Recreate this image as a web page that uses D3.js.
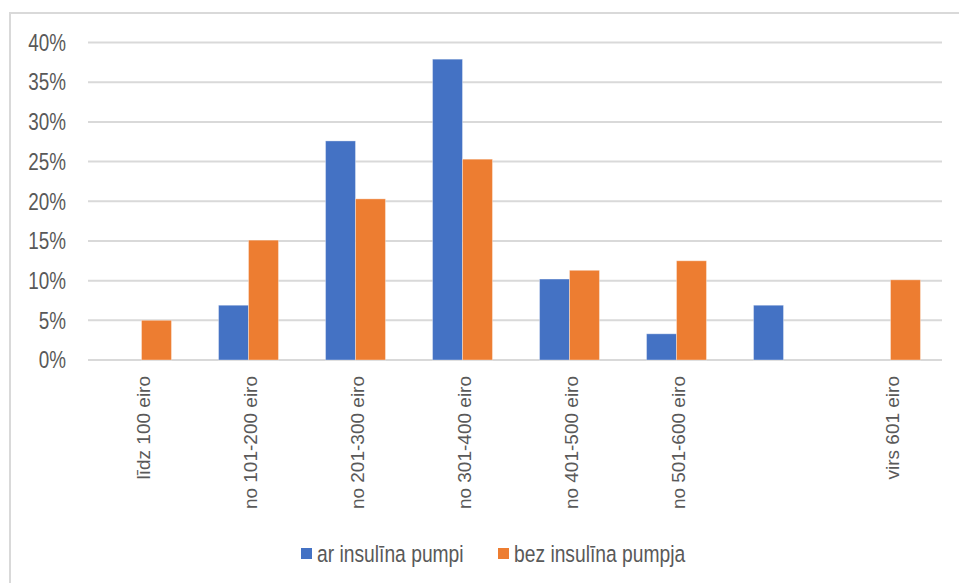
<!DOCTYPE html>
<html>
<head>
<meta charset="utf-8">
<script src="https://cdn.jsdelivr.net/npm/d3@7"></script>
<style>
  html, body { margin: 0; padding: 0; background: #fff; }
  svg { display: block; }
</style>
</head>
<body>
<svg id="chart" width="959" height="583"></svg>
<script>
// Income groups (the seventh group has no caption on the axis)
const categories = ["līdz 100 eiro", "no 101-200 eiro", "no 201-300 eiro", "no 301-400 eiro",
                    "no 401-500 eiro", "no 501-600 eiro", "", "virs 601 eiro"];
const seriesNames = ["ar insulīna pumpi", "bez insulīna pumpja"];
const withPump = [0, 6.9, 27.6, 37.9, 10.2, 3.3, 6.9, 0];
const withoutPump = [5.0, 15.1, 20.3, 25.3, 11.3, 12.5, 0, 10.1];
const yTicks = [0, 5, 10, 15, 20, 25, 30, 35, 40];
const colors = ["#4472C4", "#ED7D31"];

const svg = d3.select("#chart");
const textColor = "#595959";
const gridColor = "#D9D9D9";
const narrow = 0.82; // horizontal squeeze for the condensed labels

// Outer frame (left and top edges)
svg.append("path")
  .attr("d", "M10,583 L10,13 L959,13")
  .attr("fill", "none")
  .attr("stroke", gridColor)
  .attr("stroke-width", 2);

const plot = { left: 88, right: 944, top: 42.5, bottom: 360 };

const x = d3.scaleBand()
  .domain(d3.range(categories.length))
  .range([plot.left, plot.right])
  .paddingInner(0.44)
  .paddingOuter(0.22);

const xSub = d3.scaleBand()
  .domain([0, 1])
  .range([0, x.bandwidth()]);

const y = d3.scaleLinear()
  .domain([0, 40])
  .range([plot.bottom, plot.top]);

// Horizontal gridlines
svg.append("g")
  .selectAll("line")
  .data(yTicks)
  .join("line")
  .attr("x1", plot.left)
  .attr("x2", plot.right - 2)
  .attr("y1", d => y(d))
  .attr("y2", d => y(d))
  .attr("stroke", gridColor)
  .attr("stroke-width", 2);

// Y tick labels
svg.append("g")
  .selectAll("text")
  .data(yTicks)
  .join("text")
  .attr("transform", d => `translate(66,${y(d)}) scale(${narrow},1)`)
  .attr("dy", "0.36em")
  .attr("text-anchor", "end")
  .attr("font-family", "'Liberation Sans', Arial, sans-serif")
  .attr("font-size", 23)
  .attr("fill", textColor)
  .text(d => d + "%");

// Bars
const rows = categories.map((c, i) => ({ i, values: [withPump[i], withoutPump[i]] }));
const groups = svg.append("g")
  .selectAll("g")
  .data(rows)
  .join("g")
  .attr("transform", d => `translate(${x(d.i)},0)`);

groups.selectAll("rect")
  .data(d => d.values.map((v, s) => ({ v, s })).filter(d => d.v > 0))
  .join("rect")
  .attr("x", d => xSub(d.s))
  .attr("width", xSub.bandwidth())
  .attr("y", d => y(d.v))
  .attr("height", d => y(0) - y(d.v))
  .attr("fill", d => colors[d.s])
  .attr("stroke", "#ffffff")
  .attr("stroke-opacity", 0.35)
  .attr("stroke-width", 1);

// Category labels, rotated
svg.append("g")
  .selectAll("text")
  .data(categories)
  .join("text")
  .attr("transform", (d, i) => `translate(${x(i) + x.bandwidth() / 2 + 1},376) rotate(-90)`)
  .attr("text-anchor", "end")
  .attr("dominant-baseline", "central")
  .attr("dy", "0.05em")
  .attr("font-family", "'Liberation Sans', Arial, sans-serif")
  .attr("font-size", 19)
  .attr("fill", textColor)
  .text(d => d);

// Legend
const legendItems = [
  { name: seriesNames[0], color: colors[0], x: 301 },
  { name: seriesNames[1], color: colors[1], x: 498 }
];
const legend = svg.append("g");
legend.selectAll("rect")
  .data(legendItems)
  .join("rect")
  .attr("x", d => d.x)
  .attr("y", 548)
  .attr("width", 11)
  .attr("height", 11)
  .attr("fill", d => d.color);
legend.selectAll("text")
  .data(legendItems)
  .join("text")
  .attr("transform", d => `translate(${d.x + 16},553.5) scale(${narrow},1)`)
  .attr("dy", "0.36em")
  .attr("font-family", "'Liberation Sans', Arial, sans-serif")
  .attr("font-size", 23.5)
  .attr("fill", textColor)
  .text(d => d.name);
</script>
</body>
</html>
